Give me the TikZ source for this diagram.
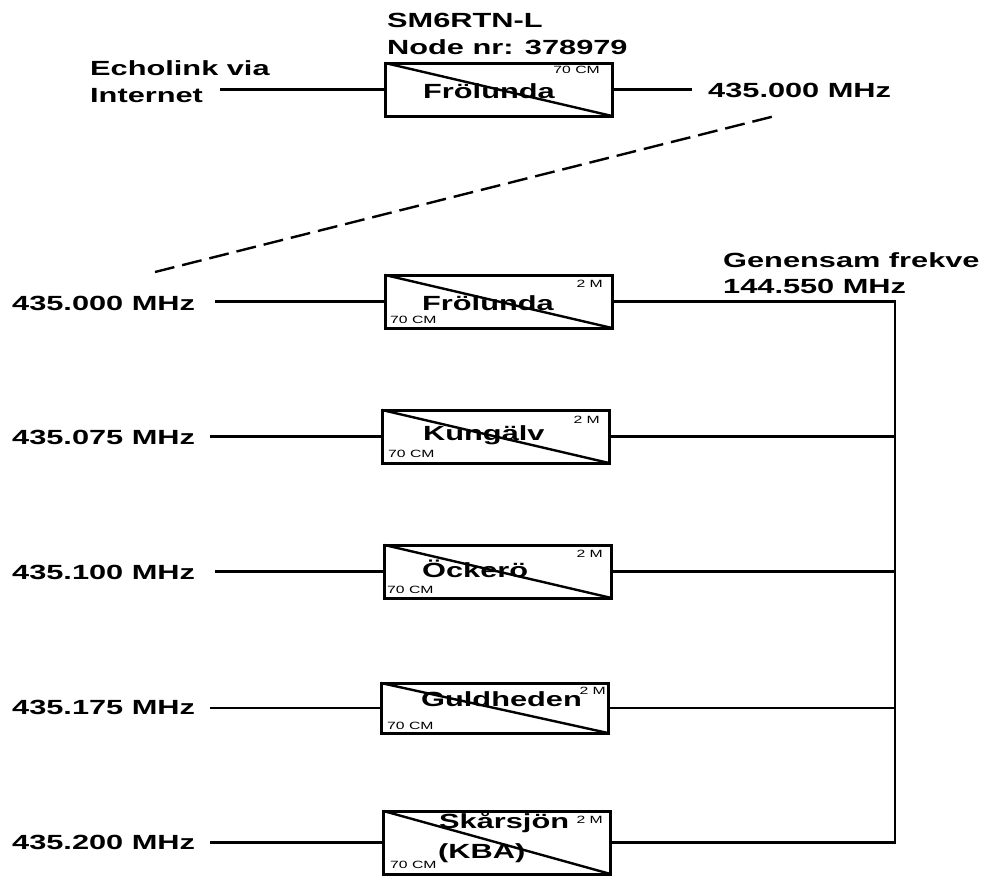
\documentclass[tikz,border=0pt]{standalone}
\usepackage{fontspec}
\newfontfamily\bigf{Liberation Sans}[FakeStretch=1.5]
\begin{document}
\begin{tikzpicture}[x=1pt,y=-1pt,
  box/.style={draw, line width=3pt, minimum width=227pt, minimum height=53pt, inner sep=0pt, outer sep=0pt},
  wire/.style={line width=2.4pt},
  diag/.style={line width=2.4pt},
  lbl/.style={font=\bigf\bfseries\fontsize{20.5}{22}\selectfont, anchor=base west, inner sep=0pt},
  sml/.style={font=\bigf\fontsize{10.5}{12}\selectfont, inner sep=0pt}]
\useasboundingbox (0,0) rectangle (992,875);
% top section
\node[lbl] (sm) at (387,28) {SM6RTN-L};
\node[lbl] (nodenr) at (387,55) {Node nr: 378979};
\node[lbl] (echo1) at (90,75) {Echolink via};
\node[lbl] (echo2) at (90,102) {Internet};
\node[box] (b0) at (498.5,89.5) {};
\node[lbl] (t0) at (423,98) {Frölunda};
\node[sml, anchor=base east] (s0) at (600,74) {70 CM};
\draw[diag] (b0.north west) -- (b0.south east);
\coordinate (e0) at (220,89.5);
\coordinate (r0) at (692,89.5);
\draw[wire] (e0) -- (b0.west);
\draw[wire] (b0.east) -- (r0);
\node[lbl] (f0) at (708,97) {435.000 MHz};
\coordinate (d1) at (155,272);
\coordinate (d2) at (775,116);
\draw[wire, dash pattern=on 20pt off 8pt] (d1) -- (d2);
% common frequency
\node[lbl] (gen1) at (723,267) {Genensam frekve};
\node[lbl] (gen2) at (723,293) {144.550 MHz};
% boxes
\node[box] (b1) at (498.5,301.5) {};
\node[box] (b2) at (495.5,436.5) {};
\node[box] (b3) at (498,571.5) {};
\node[box, minimum height=50pt] (b4) at (494.5,708) {};
\node[box, minimum height=63pt] (b5) at (497,842.5) {};
\node[lbl] (t1) at (422,310) {Frölunda};
\node[lbl] (t2) at (423,440) {Kungälv};
\node[lbl] (t3) at (422,577) {Öckerö};
\node[lbl] (t4) at (421,706) {Guldheden};
\node[lbl] (t5) at (439,828) {Skårsjön};
\node[lbl] (t5b) at (438,858) {(KBA)};
\node[sml, anchor=base east] (m1) at (603,287) {2 M};
\node[sml, anchor=base east] (m2) at (600,423) {2 M};
\node[sml, anchor=base east] (m3) at (603,557) {2 M};
\node[sml, anchor=base east] (m4) at (606,694) {2 M};
\node[sml, anchor=base east] (m5) at (603,823) {2 M};
\node[sml, anchor=base west] (c1) at (390,323) {70 CM};
\node[sml, anchor=base west] (c2) at (388,457) {70 CM};
\node[sml, anchor=base west] (c3) at (387,593) {70 CM};
\node[sml, anchor=base west] (c4) at (387,729) {70 CM};
\node[sml, anchor=base west] (c5) at (390,868) {70 CM};
\foreach \i in {1,...,5}{\draw[diag] (b\i.north west) -- (b\i.south east);}
% left labels
\node[lbl] (l1) at (12,310) {435.000 MHz};
\node[lbl] (l2) at (12,444) {435.075 MHz};
\node[lbl] (l3) at (12,579) {435.100 MHz};
\node[lbl] (l4) at (12,714) {435.175 MHz};
\node[lbl] (l5) at (12,849) {435.200 MHz};
\coordinate (a1) at (215,301.5);
\coordinate (a2) at (210,436.5);
\coordinate (a3) at (215,571.5);
\coordinate (a4) at (210,708);
\coordinate (a5) at (210,842.5);
\foreach \i in {1,...,5}{\draw[wire] (a\i) -- (b\i.west);}
% bus
\coordinate (k1) at (895,301.5);
\coordinate (k2) at (895,436.5);
\coordinate (k3) at (895,571.5);
\coordinate (k4) at (895,708);
\coordinate (k5) at (895,842.5);
\foreach \i in {1,...,5}{\draw[wire] (b\i.east) -- (k\i);}
\draw[wire, line cap=rect] (k1) -- (k5);
\end{tikzpicture}
\end{document}
